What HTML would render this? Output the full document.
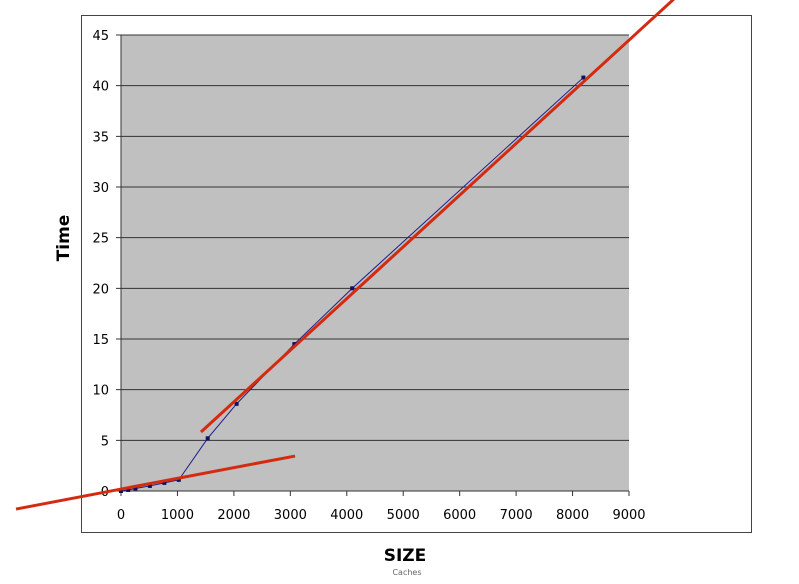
<!DOCTYPE html>
<html><head><meta charset="utf-8"><style>
body{margin:0;background:#fff;width:799px;height:580px;overflow:hidden;font-family:"DejaVu Sans","Liberation Sans",sans-serif}
</style></head><body>
<svg width="799" height="580">
<rect x="81.5" y="15.5" width="670" height="517" fill="#fff" stroke="#444"/>
<g id="plot"></g>
<text x="405" y="561" text-anchor="middle" font-size="17" font-weight="bold">SIZE</text>
<text x="407" y="575" text-anchor="middle" font-size="8" fill="#666">Caches</text>
<text transform="translate(69,238) rotate(-90)" text-anchor="middle" font-size="17" font-weight="bold">Time</text>
</svg>
<script>
const xTicks=[0,1000,2000,3000,4000,5000,6000,7000,8000,9000];
const yTicks=[0,5,10,15,20,25,30,35,40,45];
const sizes=[0,128,256,512,768,1024,1536,2048,3072,4096,8192];
const times=[0,0.1,0.25,0.5,0.8,1.1,5.2,8.6,14.5,20,40.8];
const trend1=[[-1860,-1.78],[3083,3.45]];
const trend2=[[1417,5.82],[9815,48.65]];
const X0=121,X1=629,Y0=491,Y1=35;
const sx=v=>X0+(v-0)/9000*(X1-X0);
const sy=v=>Y0-(v/45)*(Y0-Y1);
const NS="http://www.w3.org/2000/svg";
const g=document.getElementById('plot');
function mk(t,a){const e=document.createElementNS(NS,t);for(const k in a)e.setAttribute(k,a[k]);g.appendChild(e);return e;}
let r=mk('rect',{x:X0,y:Y1,width:X1-X0,height:Y0-Y1,fill:'#c0c0c0'});


yTicks.forEach(v=>{
 let l=mk('line',{x1:X0-5,x2:X1,y1:sy(v),y2:sy(v),stroke:'#333','stroke-width':1});
 
 
 let t=mk('text',{x:X0-12,y:sy(v)+5,'text-anchor':'end','font-size':13});
 t.textContent=v;
 
 
});
let ax=mk('line',{x1:X0,x2:X0,y1:Y1,y2:Y0,stroke:'#333'});


xTicks.forEach(v=>{
 let l=mk('line',{x1:sx(v),x2:sx(v),y1:Y0,y2:Y0+5,stroke:'#333'});
 
 
 let t=mk('text',{x:sx(v),y:Y0+28,'text-anchor':'middle','font-size':13});
 t.textContent=v;
 
 
});
let pts=sizes.map((s,i)=>sx(s)+','+sy(times[i])).join(' ');
let pl=mk('polyline',{points:pts,fill:'none',stroke:'#1a1a8c','stroke-width':1});


sizes.forEach((s,i)=>{
 let c=mk('rect',{x:sx(s)-2,y:sy(times[i])-2,width:4,height:4,fill:'#101060'});
 
 
});
[trend1,trend2].forEach((tr,i)=>{
 let l=mk('line',{x1:sx(tr[0][0]),y1:sy(tr[0][1]),x2:sx(tr[1][0]),y2:sy(tr[1][1]),stroke:'#d42a10','stroke-width':3});
 
 
});
</script>
</body></html>
